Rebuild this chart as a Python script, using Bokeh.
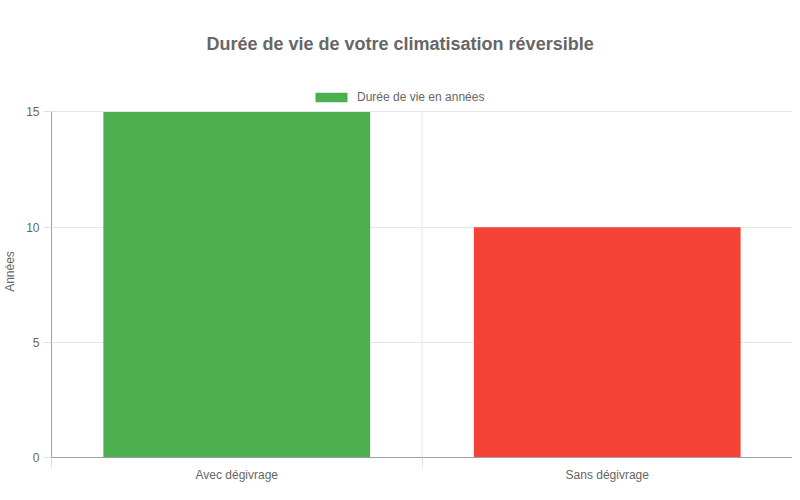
from bokeh.plotting import figure
from bokeh.models import ColumnDataSource, FixedTicker, Legend, LegendItem, Range1d
from bokeh.embed import file_html
from bokeh.resources import INLINE

categories = ["Avec dégivrage", "Sans dégivrage"]
lifetimes = [15, 10]
bar_colors = ["#4CAF50", "#F44336"]
y_ticks = [0, 5, 10, 15]
series_name = "Durée de vie en années"

FONT = "Liberation Sans"
GREY = "#666666"
GRID = "#e5e5e5"

n = len(categories)
y_max = y_ticks[-1]
xs = [i + 0.5 for i in range(n)]
source = ColumnDataSource(dict(x=xs, top=lifetimes, color=bar_colors, cat=categories))

# the frame reaches a little above the last tick so the legend fits inside it
p = figure(
    width=792,
    height=484,
    x_range=Range1d(0, n),
    y_range=Range1d(0, y_max + 1.15),
    output_backend="svg",
    toolbar_location=None,
    min_border_left=8,
    min_border_right=0,
    min_border_top=0,
    min_border_bottom=0,
)
p.outline_line_color = None

# vertical grid lines between categories, stopping at the top tick
p.segment(x0=list(range(1, n + 1)), x1=list(range(1, n + 1)), y0=0, y1=y_max,
          line_color=GRID, line_width=1)

r = p.vbar(x="x", top="top", width=0.72, bottom=0, fill_color="color",
           line_color=None, source=source)

# title
p.title.text = "Durée de vie de votre climatisation réversible"
p.title.align = "left"
p.title.text_font = FONT
p.title.text_font_size = "18px"
p.title.text_font_style = "bold"
p.title.text_color = GREY
p.title.standoff = 63
p.title.offset = 155

legend = Legend(items=[LegendItem(label=series_name, renderers=[r], index=0)],
                orientation="horizontal", location=(260, 353))
legend.glyph_width = 40
legend.glyph_height = 12
legend.label_text_font = FONT
legend.label_text_font_size = "12px"
legend.label_text_color = GREY
legend.label_standoff = 6
legend.border_line_color = None
legend.background_fill_color = None
legend.padding = 0
legend.margin = 0
p.add_layout(legend)

# x axis
p.xaxis.ticker = FixedTicker(ticks=xs, minor_ticks=list(range(n + 1)))
p.xaxis.major_label_overrides = {x: c for x, c in zip(xs, categories)}
p.xaxis.major_tick_out = 0
p.xaxis.major_tick_in = 0
p.xaxis.minor_tick_out = 10
p.xaxis.minor_tick_in = 0
p.xaxis.minor_tick_line_color = "#e0e0e0"
p.xaxis.axis_line_color = "#9e9e9e"
p.xaxis.major_label_text_font = FONT
p.xaxis.major_label_text_font_size = "12px"
p.xaxis.major_label_text_color = GREY
p.xaxis.major_label_standoff = 0

# y axis
p.yaxis.ticker = FixedTicker(ticks=y_ticks)
p.yaxis.bounds = (0, y_max)
p.yaxis.minor_tick_line_color = None
p.yaxis.major_tick_out = 8
p.yaxis.major_tick_in = 0
p.yaxis.major_tick_line_color = "#e0e0e0"
p.yaxis.axis_line_color = "#9e9e9e"
p.yaxis.major_label_text_font = FONT
p.yaxis.major_label_text_font_size = "12px"
p.yaxis.major_label_text_color = GREY
p.yaxis.major_label_standoff = 4
p.yaxis.axis_label = "Années"
p.yaxis.axis_label_text_font = FONT
p.yaxis.axis_label_text_font_size = "12px"
p.yaxis.axis_label_text_font_style = "normal"
p.yaxis.axis_label_text_color = GREY
p.yaxis.axis_label_standoff = 6

# grids
p.xgrid.visible = False
p.ygrid.ticker = FixedTicker(ticks=y_ticks[1:])
p.ygrid.grid_line_color = GRID

open("out.html", "w").write(file_html(p, INLINE))
